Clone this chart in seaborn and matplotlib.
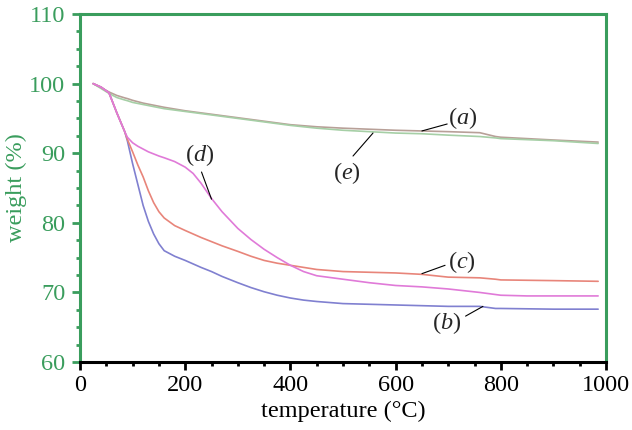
import pandas as pd
import seaborn as sns
import matplotlib
matplotlib.use("Agg")
import matplotlib.pyplot as plt
from matplotlib.ticker import MultipleLocator

# %% data
temperature = [25, 40, 55, 70, 85, 90, 100, 110, 120, 130, 140, 150, 160, 180, 200,
               215, 230, 250, 270, 300, 325, 350, 375, 400, 425, 450, 500, 550, 600,
               650, 700, 760, 790, 800, 850, 900, 985]
weight_a = [100, 99.4, 98.8, 98.3, 97.95, 97.85, 97.6, 97.4, 97.2, 97.05, 96.9, 96.75, 96.6,
            96.35, 96.1, 95.95, 95.8, 95.6, 95.4, 95.1, 94.85, 94.6, 94.35, 94.1, 93.95,
            93.8, 93.6, 93.45, 93.3, 93.2, 93.1, 92.95, 92.4, 92.3, 92.1, 91.9, 91.6]
weight_e = [100, 99.3, 98.6, 98.0, 97.65, 97.55, 97.3, 97.15, 97.0, 96.85, 96.7, 96.55, 96.4,
            96.2, 96.0, 95.85, 95.7, 95.5, 95.3, 95.0, 94.75, 94.5, 94.25, 94.0, 93.8,
            93.6, 93.3, 93.1, 92.9, 92.8, 92.6, 92.4, 92.2, 92.1, 91.95, 91.8, 91.4]
weight_b = [100, 99.5, 98.7, 95.8, 93.1, 91.8, 88.5, 85.5, 82.5, 80.2, 78.4, 77.0, 76.0,
            75.2, 74.6, 74.1, 73.6, 73.0, 72.3, 71.4, 70.7, 70.1, 69.6, 69.2, 68.9,
            68.7, 68.4, 68.3, 68.2, 68.1, 68.0, 68.0, 67.7, 67.7, 67.65, 67.6, 67.6]
weight_c = [100, 99.5, 98.7, 95.8, 93.1, 92.0, 90.2, 88.3, 86.6, 84.6, 82.9, 81.6, 80.7,
            79.6, 78.9, 78.4, 77.9, 77.3, 76.7, 75.9, 75.2, 74.6, 74.2, 73.9, 73.6,
            73.3, 73.0, 72.9, 72.8, 72.6, 72.2, 72.1, 71.9, 71.8, 71.75, 71.7, 71.6]
weight_d = [100, 99.5, 98.7, 95.8, 93.1, 92.3, 91.5, 91.0, 90.6, 90.2, 89.9, 89.6, 89.35,
            88.8, 88.0, 87.1, 85.7, 83.5, 81.6, 79.2, 77.6, 76.2, 75.0, 73.9, 73.0,
            72.4, 71.9, 71.4, 71.0, 70.8, 70.5, 70.0, 69.7, 69.6, 69.5, 69.5, 69.5]

series_names = ["a", "e", "b", "c", "d"]
series_colors = ["#b8a098", "#a6cfa6", "#8080d0", "#e8857a", "#e07ad8"]

df = pd.concat([
    pd.DataFrame({"temperature": temperature, "weight": w, "sample": n})
    for n, w in zip(series_names, [weight_a, weight_e, weight_b, weight_c, weight_d])
])

# %% style
sns.set_style("white")
plt.rcParams["font.family"] = ["Liberation Serif", "DejaVu Serif"]
plt.rcParams["mathtext.fontset"] = "custom"
plt.rcParams["mathtext.rm"] = "Liberation Serif"
plt.rcParams["mathtext.it"] = "Liberation Serif:italic"

green = "#3a9d5d"
fs = 17.5
fig = plt.figure(figsize=(6.32, 4.30), dpi=100)
ax = fig.add_axes([0.1266, 0.158, 0.8323, 0.8094])

sns.lineplot(data=df, x="temperature", y="weight", hue="sample",
             palette=dict(zip(series_names, series_colors)),
             linewidth=1.2, legend=False, ax=ax, sort=False)

ax.set_xlim(0, 1000)
ax.set_ylim(60, 110)
ax.xaxis.set_major_locator(MultipleLocator(200))
ax.xaxis.set_minor_locator(MultipleLocator(50))
ax.yaxis.set_major_locator(MultipleLocator(10))
ax.yaxis.set_minor_locator(MultipleLocator(2.5))

for side in ["left", "top", "right"]:
    ax.spines[side].set_color(green)
    ax.spines[side].set_linewidth(2.2)
ax.spines["bottom"].set_color("black")
ax.spines["bottom"].set_linewidth(2.2)

ax.tick_params(axis="x", which="major", direction="out", length=6, width=2,
               color="black", labelsize=fs, labelcolor="black", pad=3)
ax.tick_params(axis="x", which="minor", direction="out", length=3.2, width=2, color="black")
ax.tick_params(axis="y", which="major", direction="out", length=6, width=2,
               color=green, labelsize=fs, labelcolor=green, pad=4.5)
ax.tick_params(axis="y", which="minor", direction="out", length=3.2, width=2, color=green)
ax.tick_params(bottom=True, left=True, which="both")

ax.set_xlabel("temperature (°C)", fontsize=fs, color="black", labelpad=4)
ax.set_ylabel("weight (%)", fontsize=fs, color=green, labelpad=2)

# %% curve labels with leader lines
labels = [
    (r"($a$)", (728, 95.0), (650, 93.2), (698, 94.2)),
    (r"($e$)", (507, 87.2), (557, 92.9), (519, 89.6)),
    (r"($d$)", (228, 89.7), (250, 83.4), (231, 87.3)),
    (r"($c$)", (726, 74.4), (650, 72.7), (694, 73.9)),
    (r"($b$)", (697, 65.6), (766, 68.0), (733, 66.6)),
]
for txt, pos, p0, p1 in labels:
    ax.plot([p0[0], p1[0]], [p0[1], p1[1]], color="black", linewidth=0.8)
    ax.text(pos[0], pos[1], txt, fontsize=fs, ha="center", va="center")

plt.savefig("out.png", dpi=100)
